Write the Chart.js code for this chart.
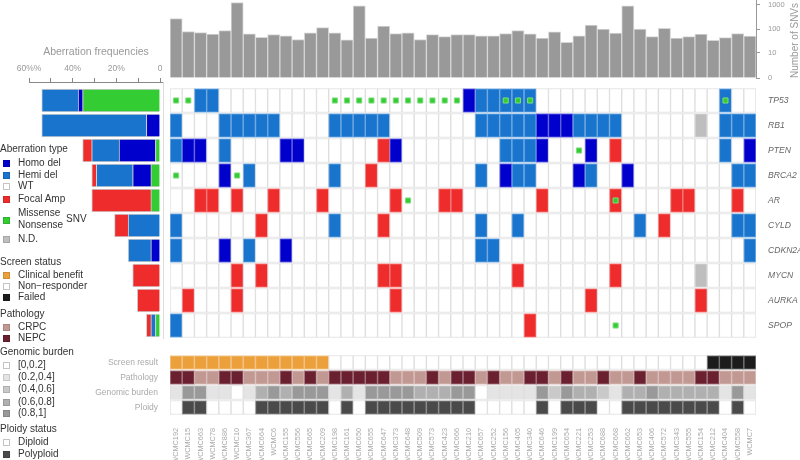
<!DOCTYPE html>
<html>
<head>
<meta charset="utf-8">
<title>Oncoprint</title>
<script src="https://cdn.jsdelivr.net/npm/chart.js@4.4.1/dist/chart.umd.min.js"></script>
<style>
  body { margin: 0; background: #fff; }
  #page { position: relative; width: 800px; height: 460px; overflow: hidden; font-family: "Liberation Sans", Arial, sans-serif; }
  #page canvas { position: absolute; }
  .txt { position: absolute; left: 18px; font-size: 10px; line-height: 12px; color: #333; white-space: nowrap; }
  .ttl { left: 0; }
  .sq { position: absolute; left: 3px; width: 5px; height: 5px; border: 1px solid rgba(0,0,0,0.12); }
  #snvTitle { position: absolute; left: 789px; top: 78px; transform-origin: 0 0; transform: rotate(-90deg); font-size: 10px; line-height: 12px; color: #999; white-space: nowrap; }
</style>
</head>
<body>
<div id="page">
  <canvas id="oncoChart" width="800" height="460" style="left:0;top:0"></canvas>
  <canvas id="snvChart" width="800" height="82" style="left:0;top:0"></canvas>
  <canvas id="freqChart" width="171" height="312" style="left:0;top:30px"></canvas>
  <div id="snvTitle">Number of SNVs</div>
  <div id="legend"></div>
</div>
<script>
// samples, in plot order
const samples = [
  'WCMC192','WCMC15','WCMC663','WCMC78','WCMC886','WCMC10','WCMC367','WCMC664','WCMC6','WCMC155','WCMC556','WCMC665',
  'WCMC209','WCMC198','WCMC161','WCMC650','WCMC655','WCMC647','WCMC373','WCMC648','WCMC509','WCMC573','WCMC423','WCMC666',
  'WCMC210','WCMC657','WCMC252','WCMC156','WCMC405','WCMC340','WCMC646','WCMC199','WCMC654','WCMC221','WCMC253','WCMC688',
  'WCMC668','WCMC662','WCMC653','WCMC406','WCMC572','WCMC343','WCMC555','WCMC154','WCMC212','WCMC404','WCMC558','WCMC7'
];
const genes = ['TP53','RB1','PTEN','BRCA2','AR','CYLD','CDKN2A','MYCN','AURKA','SPOP'];

// number of SNVs per sample (top bars)
const snvCounts = [
  275, 80, 72, 63, 87, 1250, 64, 46, 60, 53, 37, 70,
  115, 70, 36, 910, 42, 135, 66, 70, 37, 59, 49, 60,
  59, 53, 53, 66, 87, 64, 42, 77, 28, 53, 148, 100,
  68, 910, 100, 49, 109, 42, 49, 63, 34, 44, 66, 52
];
const snvTicks = [0, 10, 100, 1000];

// aberrations: D homo del, H hemi del, A focal amp, N not determined, S SNV, . none
const tp53 = [
  'S','S','H','H','.','.','.','.','.','.','.','.',
  '.','S','S','S','S','S','S','S','S','S','S','S',
  'D','H','H','HS','HS','HS','.','.','.','.','.','.',
  '.','.','.','.','.','.','.','.','.','HS','.','.'
];
const rb1 = [
  'H','.','.','.','H','H','H','H','H','.','.','.',
  '.','H','H','H','H','H','.','.','.','.','.','.',
  '.','H','H','H','H','H','D','D','D','H','H','H',
  'H','.','.','.','.','.','.','N','.','H','H','H'
];
const pten = [
  'H','D','D','.','H','.','.','.','.','D','D','.',
  '.','.','.','.','.','A','D','.','.','.','.','.',
  '.','.','.','H','H','H','D','.','.','S','D','.',
  'A','.','.','.','.','.','.','.','.','H','.','D'
];
const brca2 = [
  'S','.','.','.','D','S','H','.','.','.','.','.',
  '.','H','.','.','A','.','.','.','.','.','.','.',
  '.','H','.','D','H','H','.','.','.','D','H','.',
  '.','D','.','.','.','.','.','.','.','.','H','H'
];
const ar = [
  '.','.','A','A','.','A','.','.','A','.','.','.',
  'A','.','.','.','.','.','A','S','.','.','A','A',
  '.','.','.','.','.','.','A','.','.','.','.','.',
  'AS','.','.','.','.','A','A','.','.','.','A','.'
];
const cyld = [
  'H','.','.','.','.','.','.','A','.','.','.','.',
  '.','H','.','.','.','A','.','.','.','.','.','.',
  '.','H','.','.','H','.','.','.','.','.','.','.',
  '.','.','H','.','A','.','.','.','.','.','H','H'
];
const cdkn2a = [
  'H','.','.','.','D','.','H','.','.','D','.','.',
  '.','.','.','.','.','.','.','.','.','.','.','.',
  '.','H','H','.','.','.','.','.','.','.','.','.',
  '.','.','.','.','.','.','.','.','.','.','.','H'
];
const mycn = [
  '.','.','.','.','.','A','.','A','.','.','.','.',
  '.','.','.','.','.','A','A','.','.','.','.','.',
  '.','.','.','.','A','.','.','.','.','.','.','.',
  'A','.','.','.','.','.','.','N','.','.','.','.'
];
const aurka = [
  '.','A','.','.','.','A','.','.','.','.','.','.',
  '.','.','.','.','.','.','A','.','.','.','.','.',
  '.','.','.','.','.','.','.','.','.','.','A','.',
  '.','.','.','.','.','.','.','A','.','.','.','.'
];
const spop = [
  'H','.','.','.','.','.','.','.','.','.','.','.',
  '.','.','.','.','.','.','.','.','.','.','.','.',
  '.','.','.','.','.','A','.','.','.','.','.','.',
  'S','.','.','.','.','.','.','.','.','.','.','.'
];
const alterations = [tp53, rb1, pten, brca2, ar, cyld, cdkn2a, mycn, aurka, spop];

// annotation rows
const annotationLabels = ['Screen result', 'Pathology', 'Genomic burden', 'Ploidy'];
// C clinical benefit, R non-responder, F failed
const screenResult = [
  'C','C','C','C','C','C','C','C','C','C','C','C',
  'C','R','R','R','R','R','R','R','R','R','R','R',
  'R','R','R','R','R','R','R','R','R','R','R','R',
  'R','R','R','R','R','R','R','R','F','F','F','F'
];
const pathology = [
  'NEPC','NEPC','CRPC','CRPC','NEPC','NEPC','CRPC','CRPC','CRPC','NEPC','CRPC','NEPC',
  'CRPC','NEPC','NEPC','NEPC','NEPC','NEPC','CRPC','CRPC','CRPC','NEPC','CRPC','NEPC',
  'NEPC','CRPC','NEPC','CRPC','CRPC','NEPC','NEPC','CRPC','NEPC','CRPC','CRPC','NEPC',
  'CRPC','CRPC','NEPC','CRPC','CRPC','CRPC','CRPC','NEPC','NEPC','CRPC','CRPC','CRPC'
];
// genomic burden bin: 0 [0,0.2] .. 4 (0.8,1]
const genomicBurden = [
  1, 4, 4, 1, 1, 0, 1, 3, 4, 3, 4, 4,
  4, 1, 3, 1, 4, 4, 4, 4, 3, 3, 3, 4,
  4, 0, 1, 1, 1, 1, 4, 2, 4, 3, 3, 2,
  1, 3, 3, 4, 3, 3, 3, 3, 3, 1, 4, 1
];
const ploidy = [
  'D','P','P','D','D','D','D','P','P','P','P','P',
  'P','D','P','D','P','P','P','P','P','P','P','P',
  'P','D','D','D','D','D','P','D','P','P','P','D',
  'D','P','P','P','P','P','P','P','P','D','P','D'
];

const freqTicks = [0, 0.1, 0.2, 0.3, 0.4, 0.5, 0.6];
const freqTickLabels = ['0', '', '20%', '', '40%', '', '60%%'];

// colours
const CNA_COLORS = { D: '#0000cd', H: '#1874cd', A: '#ee2c2c', N: '#bebebe' };
const SNV_COLOR = '#33cc33';
const SCREEN_COLORS = { C: '#eba03c', R: '#ffffff', F: '#1c1c1c' };
const PATH_COLORS = { CRPC: '#c29893', NEPC: '#6b2030' };
const BURDEN_COLORS = ['#ffffff', '#e4e4e4', '#c9c9c9', '#b0b0b0', '#999999'];
const PLOIDY_COLORS = { D: '#ffffff', P: '#4a4a4a' };
const CELL_BORDER = '#dedede';

// layout (y units = pixels below grid top)
const ROW_H = 25, ANN_TOP = 267, ANN_H = 15, GRID_H = 327;

const cellColor = code => CNA_COLORS[code.replace('S', '')] || '#ffffff';
const edgeOf = col => (col === '#ffffff' || col === '#e4e4e4') ? CELL_BORDER : col + '88';

const noPad = s => { s.paddingTop = 0; s.paddingBottom = 0; s.paddingLeft = 0; s.paddingRight = 0; };

// ---------- top: SNV counts ----------
new Chart(document.getElementById('snvChart'), {
  type: 'bar',
  data: {
    labels: samples,
    datasets: [{
      data: snvCounts.map(v => Math.log10(v + 1)),
      backgroundColor: '#999999',
      borderColor: '#d6d6d6',
      borderWidth: 1,
      barPercentage: 1,
      categoryPercentage: 1
    }]
  },
  options: {
    responsive: false,
    animation: false,
    layout: { padding: { left: 170, right: 0, top: 0, bottom: 4 } },
    plugins: { legend: { display: false }, tooltip: { enabled: false } },
    scales: {
      x: { display: false },
      y: {
        position: 'right', min: 0, max: 3.2,
        afterBuildTicks: s => { s.ticks = snvTicks.map(v => ({ value: Math.log10(v + 1) })); },
        afterFit: s => { s.width = 44; noPad(s); },
        ticks: { callback: (v, i) => String(snvTicks[i]), color: '#999', font: { size: 7.5 }, padding: 8 },
        grid: { drawOnChartArea: false, tickLength: 4, color: '#999' },
        border: { display: true, color: '#999' }
      }
    }
  }
});

// ---------- left: aberration frequencies ----------
const freqTypes = [
  { key: 'S', color: SNV_COLOR },
  { key: 'D', color: CNA_COLORS.D },
  { key: 'H', color: CNA_COLORS.H },
  { key: 'A', color: CNA_COLORS.A }
];
new Chart(document.getElementById('freqChart'), {
  type: 'bar',
  data: {
    datasets: freqTypes.map(t => ({
      data: alterations
        .map((row, i) => ({ x: row.filter(c => c.includes(t.key)).length / samples.length, y: i * ROW_H + ROW_H / 2 }))
        .filter(p => p.x > 0),
      backgroundColor: t.color,
      borderColor: '#cfcfcf',
      borderWidth: 1,
      barThickness: 23
    }))
  },
  options: {
    indexAxis: 'y',
    responsive: false,
    animation: false,
    layout: { padding: { left: 29, right: 0, top: 0, bottom: 4 } },
    plugins: { legend: { display: false }, tooltip: { enabled: false } },
    scales: {
      x: {
        position: 'top', reverse: true, stacked: true, min: -0.0137, max: 0.6,
        afterBuildTicks: s => { s.ticks = freqTicks.map(v => ({ value: v })); },
        afterFit: s => { s.height = 52; noPad(s); },
        ticks: { callback: (v, i) => freqTickLabels[i], color: '#999', font: { size: 8.5 }, padding: 4, autoSkip: false, maxRotation: 0 },
        grid: { drawOnChartArea: false, tickLength: 4, color: '#888' },
        border: { display: true, color: '#888' },
        title: { display: true, text: 'Aberration frequencies', color: '#999', font: { size: 10.5 }, padding: { top: 16, bottom: 0 } }
      },
      y: {
        type: 'linear', position: 'right', reverse: true, stacked: true, offset: false, min: -6, max: 250,
        afterFit: s => { s.width = 8; noPad(s); },
        ticks: { display: false },
        grid: { display: false, offset: false },
        border: { display: true, color: '#dddddd' }
      }
    }
  }
});

// ---------- main grid + annotations ----------
const geneSets = alterations.map((row, i) => {
  const bg = row.map(cellColor);
  return {
    type: 'bar',
    data: samples.map(() => [i * ROW_H + 0.5, (i + 1) * ROW_H - 0.5]),
    backgroundColor: bg,
    borderColor: bg.map(edgeOf),
    borderWidth: 1,
    borderSkipped: false,
    grouped: false,
    barPercentage: 1,
    categoryPercentage: 1,
    order: 2
  };
});
const annColors = [
  screenResult.map(v => SCREEN_COLORS[v]),
  pathology.map(v => PATH_COLORS[v]),
  genomicBurden.map(v => BURDEN_COLORS[v]),
  ploidy.map(v => PLOIDY_COLORS[v])
];
const annSets = annColors.map((bg, j) => ({
  type: 'bar',
  data: samples.map(() => [ANN_TOP + j * ANN_H + 0.5, ANN_TOP + (j + 1) * ANN_H - 0.5]),
  backgroundColor: bg,
  borderColor: bg.map(edgeOf),
  borderWidth: 1,
  borderSkipped: false,
  grouped: false,
  barPercentage: 1,
  categoryPercentage: 1,
  order: 2
}));
const snvPoints = [];
alterations.forEach((row, i) => row.forEach((c, k) => {
  if (c.includes('S')) snvPoints.push({ x: samples[k], y: i * ROW_H + ROW_H / 2 });
}));
const snvSet = {
  type: 'line',
  data: snvPoints,
  showLine: false,
  pointStyle: 'rect',
  pointRadius: 3.6,
  pointBackgroundColor: SNV_COLOR,
  pointBorderColor: '#7fdc7f',
  pointBorderWidth: 1,
  order: 0
};

new Chart(document.getElementById('oncoChart'), {
  type: 'bar',
  data: { labels: samples, datasets: [...geneSets, ...annSets, snvSet] },
  options: {
    responsive: false,
    animation: false,
    layout: { padding: { left: 0, right: 0, top: 88, bottom: 0 } },
    plugins: { legend: { display: false }, tooltip: { enabled: false } },
    scales: {
      x: {
        afterFit: s => { s.height = 45; noPad(s); },
        ticks: { color: '#aaa', font: { size: 7.3 }, minRotation: 90, maxRotation: 90, autoSkip: false, padding: 5 },
        grid: { display: false },
        border: { display: false }
      },
      y: {
        type: 'linear', position: 'left', reverse: true, min: 0, max: GRID_H,
        afterBuildTicks: s => { s.ticks = annotationLabels.map((_, j) => ({ value: ANN_TOP + j * ANN_H + ANN_H / 2 })); },
        afterFit: s => { s.width = 170; noPad(s); },
        ticks: { callback: (v, i) => annotationLabels[i], color: '#aaa', font: { size: 8.5 }, padding: 4, autoSkip: false },
        grid: { display: false },
        border: { display: false }
      },
      yr: {
        type: 'linear', position: 'right', reverse: true, min: 0, max: GRID_H,
        afterBuildTicks: s => { s.ticks = genes.map((_, i) => ({ value: i * ROW_H + ROW_H / 2 })); },
        afterFit: s => { s.width = 44; noPad(s); },
        ticks: { callback: (v, i) => genes[i], color: '#666', font: { size: 8.6, style: 'italic' }, padding: 4, autoSkip: false },
        grid: { display: false },
        border: { display: false }
      }
    }
  }
});

// ---------- legend ----------
const legendItems = [
  ['title', 'Aberration type', 149],
  ['item', 'Homo del', 163, CNA_COLORS.D],
  ['item', 'Hemi del', 175, CNA_COLORS.H],
  ['item', 'WT', 186, '#ffffff'],
  ['item', 'Focal Amp', 199, CNA_COLORS.A],
  ['item', 'Missense', 213, null],
  ['item', 'Nonsense', 225, null],
  ['box', '', 220, SNV_COLOR],
  ['item', 'N.D.', 239, CNA_COLORS.N],
  ['title', 'Screen status', 262],
  ['item', 'Clinical benefit', 275, SCREEN_COLORS.C],
  ['item', 'Non\u2212responder', 286, SCREEN_COLORS.R],
  ['item', 'Failed', 297, SCREEN_COLORS.F],
  ['title', 'Pathology', 314],
  ['item', 'CRPC', 327, PATH_COLORS.CRPC],
  ['item', 'NEPC', 338, PATH_COLORS.NEPC],
  ['title', 'Genomic burden', 352],
  ['item', '[0,0.2]', 365, BURDEN_COLORS[0]],
  ['item', '(0.2,0.4]', 377, BURDEN_COLORS[1]],
  ['item', '(0.4,0.6]', 389, BURDEN_COLORS[2]],
  ['item', '(0.6,0.8]', 402, BURDEN_COLORS[3]],
  ['item', '(0.8,1]', 413, BURDEN_COLORS[4]],
  ['title', 'Ploidy status', 429],
  ['item', 'Diploid', 442, PLOIDY_COLORS.D],
  ['item', 'Polyploid', 454, PLOIDY_COLORS.P]
];
const legend = document.getElementById('legend');
legendItems.forEach(([kind, text, y, color]) => {
  if (text) {
    const t = document.createElement('div');
    t.className = kind === 'title' ? 'txt ttl' : 'txt';
    t.style.top = (y - 6) + 'px';
    t.textContent = text;
    legend.appendChild(t);
  }
  if (color) {
    const s = document.createElement('div');
    s.className = 'sq';
    s.style.top = (y - 3) + 'px';
    s.style.background = color;
    if (color === '#ffffff') s.style.borderColor = '#c4c4c4';
    legend.appendChild(s);
  }
});
const snvLbl = document.createElement('div');
snvLbl.className = 'txt';
snvLbl.style.left = '66px';
snvLbl.style.top = (219 - 6) + 'px';
snvLbl.textContent = 'SNV';
legend.appendChild(snvLbl);

// centre the rotated axis title on the bar area
const snvTitle = document.getElementById('snvTitle');
snvTitle.style.top = (40 + snvTitle.offsetWidth / 2) + 'px';
</script>
</body>
</html>
